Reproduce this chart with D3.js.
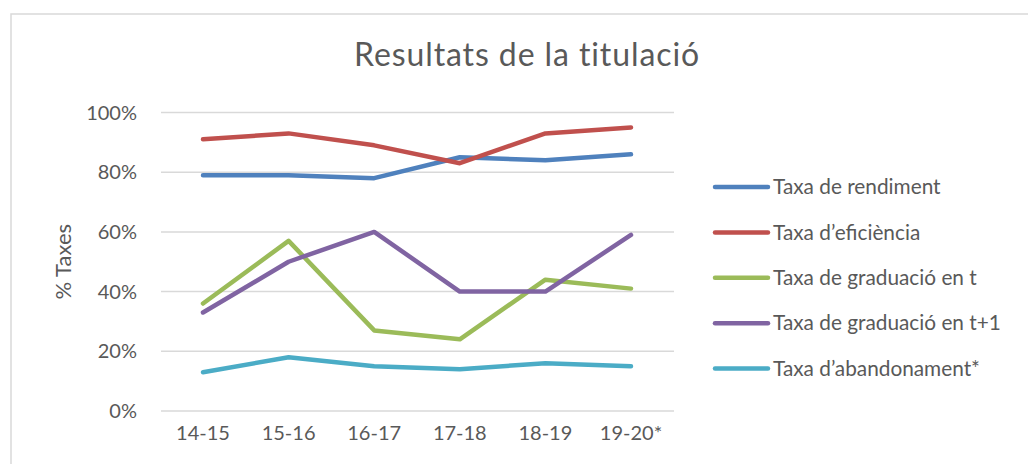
<!DOCTYPE html>
<meta charset="utf-8">
<style>
body { margin: 0; background: #fff; }
text { font-family: Lato, "Open Sans", sans-serif; fill: #595959; }
.grid line { stroke: #d9d9d9; stroke-width: 1.5px; }
.serie { fill: none; stroke-width: 4.5px; stroke-linejoin: round; stroke-linecap: round; }
</style>
<svg width="1028" height="464"></svg>
<script src="https://d3js.org/d3.v7.min.js"></script>
<script>

var cursos = ["14-15", "15-16", "16-17", "17-18", "18-19", "19-20*"];
var noms = ["Taxa de rendiment", "Taxa d\u2019efici\u00e8ncia", "Taxa de graduaci\u00f3 en t",
            "Taxa de graduaci\u00f3 en t+1", "Taxa d\u2019abandonament*"];
var colors = ["#4f81bd", "#c0504d", "#9bbb59", "#8064a2", "#4bacc6"];

var rendiment  = [79, 79, 78, 85, 84, 86];
var eficiencia = [91, 93, 89, 83, 93, 95];
var gradT      = [36, 57, 27, 24, 44, 41];
var gradT1     = [33, 50, 60, 40, 40, 59];
var abandonament = [13, 18, 15, 14, 16, 15];
var yTicks = [0, 20, 40, 60, 80, 100];

var series = [rendiment, eficiencia, gradT, gradT1, abandonament];

var svg = d3.select("svg");

// marc del grafic
svg.append("rect")
    .attr("x", 11).attr("y", 14)
    .attr("width", 1040).attr("height", 480)
    .attr("fill", "none").attr("stroke", "#d9d9d9").attr("stroke-width", 1.5);

var x = d3.scalePoint().domain(cursos).range([203, 631]);
var y = d3.scaleLinear().domain([0, 100]).range([411, 112.5]);

svg.append("text")
    .attr("x", 527).attr("y", 66)
    .attr("text-anchor", "middle")
    .style("font-size", "32px")
    .style("letter-spacing", "0.9px")
    .text("Resultats de la titulaci\u00f3");

svg.append("g").attr("class", "grid")
  .selectAll("line").data(yTicks).join("line")
    .attr("x1", 161).attr("x2", 674)
    .attr("y1", d => y(d)).attr("y2", d => y(d));

svg.append("g")
  .selectAll("text").data(yTicks).join("text")
    .attr("x", 137).attr("y", d => y(d))
    .attr("dy", "0.35em")
    .attr("text-anchor", "end")
    .style("font-size", "20px")
    .text(d => d + "%");

svg.append("g")
  .selectAll("text").data(cursos).join("text")
    .attr("x", d => x(d)).attr("y", 440)
    .attr("text-anchor", "middle")
    .style("font-size", "20px")
    .text(d => d);

svg.append("text")
    .attr("transform", "translate(71," + y(50) + ") rotate(-90)")
    .attr("text-anchor", "middle")
    .style("font-size", "22px")
    .text("% Taxes");

var line = d3.line()
    .x((d, i) => x(cursos[i]))
    .y(d => y(d));

svg.append("g")
  .selectAll("path").data(series).join("path")
    .attr("class", "serie")
    .attr("stroke", (d, i) => colors[i])
    .attr("d", line);

// llegenda
var leg = svg.append("g")
  .selectAll("g").data(noms).join("g")
    .attr("transform", (d, i) => "translate(0," + (187 + i * 45.4) + ")");

leg.append("line")
    .attr("class", "serie")
    .attr("x1", 715).attr("x2", 768)
    .attr("stroke", (d, i) => colors[i]);

leg.append("text")
    .attr("x", 773).attr("dy", "0.35em")
    .style("font-size", "20.8px")
    .text(d => d);

</script>
